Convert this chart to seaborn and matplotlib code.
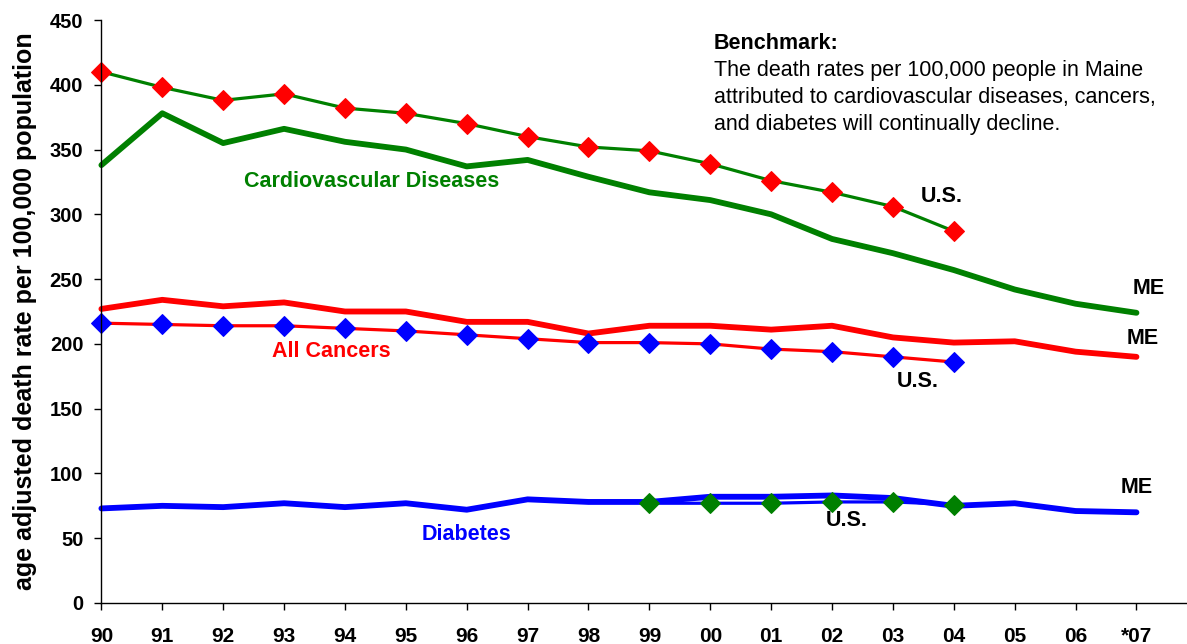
import numpy as np
import pandas as pd
import seaborn as sns
import matplotlib.pyplot as plt

# Data
years = ['90', '91', '92', '93', '94', '95', '96', '97', '98', '99',
         '00', '01', '02', '03', '04', '05', '06', '*07']

me_cardio = [338, 378, 355, 366, 356, 350, 337, 342, 329, 317,
             311, 300, 281, 270, 257, 242, 231, 224]
us_cardio = [410, 398, 388, 393, 382, 378, 370, 360, 352, 349,
             339, 326, 317, 306, 287]

me_cancer = [227, 234, 229, 232, 225, 225, 217, 217, 208, 214,
             214, 211, 214, 205, 201, 202, 194, 190]
us_cancer = [216, 215, 214, 214, 212, 210, 207, 204, 201, 201,
             200, 196, 194, 190, 186]

me_diabetes = [73, 75, 74, 77, 74, 77, 72, 80, 78, 78,
               82, 82, 83, 81, 75, 77, 71, 70]
us_diabetes_years = ['99', '00', '01', '02', '03', '04']
us_diabetes = [77, 77, 77, 78, 78, 76]

GREEN = '#008000'
RED = '#FF0000'
BLUE = '#0000FF'

pos = {y: i for i, y in enumerate(years)}

def frame(yrs, vals):
    return pd.DataFrame({'x': [pos[y] for y in yrs], 'rate': vals})

sns.set_style('white')
plt.rcParams['font.family'] = ['Liberation Sans', 'DejaVu Sans']
plt.rcParams['text.color'] = 'black'
plt.rcParams['axes.labelcolor'] = 'black'
plt.rcParams['xtick.color'] = 'black'
plt.rcParams['ytick.color'] = 'black'

fig = plt.figure(figsize=(11.87, 6.44), dpi=100)
ax = fig.add_axes([101.4 / 1187, 41 / 644, (1187 - 101.4) / 1187, 583 / 644])

# Maine series: thick lines, no markers
for vals, col in [(me_cardio, GREEN), (me_cancer, RED), (me_diabetes, BLUE)]:
    sns.lineplot(data=frame(years, vals), x='x', y='rate', ax=ax, color=col,
                 linewidth=4.2, solid_capstyle='round', clip_on=False)

# U.S. series: thinner lines with diamond markers
us_series = [
    (years[:len(us_cardio)], us_cardio, GREEN, RED),
    (years[:len(us_cancer)], us_cancer, RED, BLUE),
    (us_diabetes_years, us_diabetes, BLUE, GREEN),
]
for yrs, vals, lcol, mcol in us_series:
    sns.lineplot(data=frame(yrs, vals), x='x', y='rate', ax=ax, color=lcol,
                 linewidth=2.3, marker='D', markersize=10,
                 markerfacecolor=mcol, markeredgecolor=mcol, clip_on=False)

ax.set_xlim(0, 17.83)
ax.set_ylim(0, 450)
ax.set_xticks(range(len(years)))
ax.set_xticklabels(years)
ax.set_yticks(range(0, 451, 50))
ax.set_xlabel('')
ax.set_ylabel('age adjusted death rate per 100,000 population',
              fontsize=18, fontweight='bold', labelpad=9, color='black')

for lab in ax.get_xticklabels() + ax.get_yticklabels():
    lab.set_fontweight('bold')
ax.tick_params(axis='both', labelsize=14.5, length=5, width=1, direction='out',
               color='black', labelcolor='black')
ax.tick_params(axis='x', pad=12, labelsize=15, bottom=True)
ax.tick_params(axis='y', pad=8, left=True)

sns.despine(ax=ax)
for side in ['left', 'bottom']:
    ax.spines[side].set_color('black')
    ax.spines[side].set_linewidth(1)

# Series labels
lbl = dict(fontsize=15.5, fontweight='bold', ha='center', va='center')
ax.text(4.44, 325.7, 'Cardiovascular Diseases', color=GREEN, **lbl)
ax.text(3.77, 194.5, 'All Cancers', color=RED, **lbl)
ax.text(5.99, 52.5, 'Diabetes', color=BLUE, **lbl)
ax.text(13.8, 313.4, 'U.S.', color='black', **lbl)
ax.text(13.4, 171.0, 'U.S.', color='black', **lbl)
ax.text(12.24, 63.3, 'U.S.', color='black', **lbl)
ax.text(17.2, 243.0, 'ME', color='black', **lbl)
ax.text(17.1, 204.5, 'ME', color='black', **lbl)
ax.text(17.0, 88.8, 'ME', color='black', **lbl)

# Benchmark note
ax.text(10.06, 432, 'Benchmark:', fontsize=15.5, fontweight='bold',
        ha='left', va='center', color='black')
bench_lines = ['The death rates per 100,000 people in Maine',
               'attributed to cardiovascular diseases, cancers,',
               'and diabetes will continually decline.']
for i, line in enumerate(bench_lines):
    ax.text(10.06, 411.4 - i * 20.85, line, fontsize=15.5,
            ha='left', va='center', color='black')

fig.savefig('out.png', dpi=100)
